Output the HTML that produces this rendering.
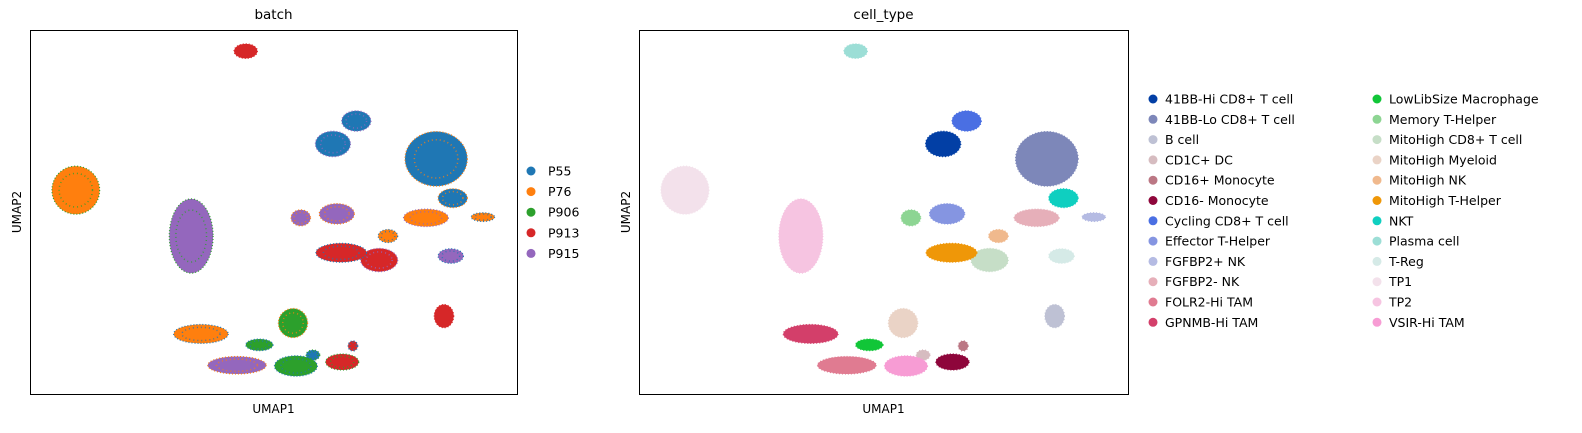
<!DOCTYPE html>
<html><head><meta charset="utf-8">
<style>
body{margin:0;background:#fff;width:1582px;height:429px;overflow:hidden;font-family:"DejaVu Sans","Liberation Sans",sans-serif;}
svg text{font-family:"DejaVu Sans","Liberation Sans",sans-serif;fill:#000;}
</style></head>
<body>
<svg id="chart" width="1582" height="429" xmlns="http://www.w3.org/2000/svg"></svg>
<script>
// Cluster data in UMAP coordinates (0..100 domain on both axes)
const cellTypes=["41BB-Hi CD8+ T cell","41BB-Lo CD8+ T cell","B cell","CD1C+ DC","CD16+ Monocyte","CD16- Monocyte","Cycling CD8+ T cell","Effector T-Helper","FGFBP2+ NK","FGFBP2- NK","FOLR2-Hi TAM","GPNMB-Hi TAM","LowLibSize Macrophage","Memory T-Helper","MitoHigh CD8+ T cell","MitoHigh Myeloid","MitoHigh NK","MitoHigh T-Helper","NKT","Plasma cell","T-Reg","TP1","TP2","VSIR-Hi TAM"];
const typeColors=["#023fa5","#7d87b9","#bec1d4","#d6bcc0","#bb7784","#8e063b","#4a6fe3","#8595e1","#b5bbe3","#e6afb9","#e07b91","#d33f6a","#11c638","#8dd593","#c6dec7","#ead3c6","#f0b98d","#ef9708","#0fcfc0","#9cded6","#d5eae7","#f3e1eb","#f6c4e1","#f79cd4"];
const clusterX=[62.2,83.4,85.0,58.1,66.3,64.1,67.0,63.0,93.0,81.3,42.5,35.1,47.1,55.6,71.7,54.0,73.5,63.9,86.8,44.3,86.4,9.4,33.1,54.6];
const clusterY=[68.7,64.6,21.4,10.7,13.2,8.8,75.0,49.5,48.6,48.4,7.9,16.5,13.5,48.4,36.8,19.5,43.4,38.8,53.8,94.2,37.9,56.0,43.4,7.7];
const clusterRX=[3.6,6.4,2.0,1.4,1.0,3.4,3.0,3.6,2.4,4.6,6.0,5.6,2.8,2.0,3.8,3.0,2.0,5.2,3.0,2.4,2.6,4.9,4.5,4.4];
const clusterRY=[3.5,7.5,3.2,1.4,1.4,2.2,2.8,2.8,1.2,2.4,2.4,2.6,1.6,2.2,3.2,4.0,1.8,2.6,2.6,2.0,2.0,6.6,10.2,2.8];
const batches=["P55","P76","P906","P913","P915"];
const batchColors=["#1f77b4","#ff7f0e","#2ca02c","#d62728","#9467bd"];
// dominant / secondary batch per cluster (index into batches)
const batchMain=[0,0,3,0,3,3,0,4,1,1,4,1,2,4,3,2,1,3,0,3,4,1,4,2];
const batchSecond=[4,1,3,2,0,2,4,1,0,4,1,0,0,1,4,1,0,0,1,3,0,2,2,0];

const svg=document.getElementById('chart');
const NS="http://www.w3.org/2000/svg";
function mk(tag,attrs,parent){const e=document.createElementNS(NS,tag);for(const k in attrs)e.setAttribute(k,attrs[k]);(parent||svg).appendChild(e);return e;}

const panels=[{x0:30,w:487,title:"batch",name:"batch-panel"},{x0:639,w:489,title:"cell_type",name:"cell-type-panel"}];
const y0=30,H=364;
panels.forEach((p,pi)=>{
  const W=p.w;
  const g=mk('g',{});
  
  
  const sx=v=>p.x0+v/100*W, sy=v=>y0+H-v/100*H;
  const clip=mk('clipPath',{id:'clip'+pi},g);mk('rect',{x:p.x0,y:y0,width:W,height:H},clip);
  const pts=mk('g',{'clip-path':'url(#clip'+pi+')'},g);
  cellTypes.forEach((ct,i)=>{
    const cx=sx(clusterX[i]),cy=sy(clusterY[i]),rx=clusterRX[i]/100*W,ry=clusterRY[i]/100*H;
    let c1,c2;
    if(pi===0){c1=batchColors[batchMain[i]];c2=batchColors[batchSecond[i]];}
    else{c1=typeColors[i];c2=typeColors[i];}
    const e=mk('ellipse',{cx:cx,cy:cy,rx:rx,ry:ry,fill:c1,stroke:c2,'stroke-width':1.2,'stroke-dasharray':'1 2'},pts);
    
    
    if(pi===0){mk('ellipse',{cx:cx,cy:cy,rx:rx*0.7,ry:ry*0.7,fill:'none',stroke:c2,'stroke-width':1.5,'stroke-dasharray':'1 3',opacity:0.8},pts);}
  });
  const fr=mk('rect',{x:p.x0+0.5,y:y0+0.5,width:W,height:H,fill:'none',stroke:'#000','stroke-width':1},g);
  
  const t=mk('text',{x:p.x0+W/2,y:19,'text-anchor':'middle','font-size':13.5},g);t.textContent=p.title;
  
  const xl=mk('text',{x:p.x0+W/2,y:413,'text-anchor':'middle','font-size':12},g);xl.textContent='UMAP1';
  
  const yl=mk('text',{x:0,y:0,'text-anchor':'middle','font-size':12,transform:`translate(${p.x0-9},${y0+H/2}) rotate(-90)`},g);yl.textContent='UMAP2';
  
});
// batch legend
batches.forEach((b,i)=>{
  const g=mk('g',{});
  
  
  const y=171+i*20.6;
  mk('circle',{cx:531,cy:y,r:4.5,fill:batchColors[i]},g);
  const t=mk('text',{x:548,y:y+4.5,'font-size':12.5},g);t.textContent=b;
});
// cell type legend
cellTypes.forEach((ct,i)=>{
  const g=mk('g',{});
  
  
  const col=Math.floor(i/12),row=i%12;
  const y=99+row*20.3;
  const cx=col?1377:1153;
  mk('circle',{cx:cx,cy:y,r:4.5,fill:typeColors[i]},g);
  const t=mk('text',{x:cx+12,y:y+4.5,'font-size':12.5},g);t.textContent=ct;
});
</script>
</body></html>
